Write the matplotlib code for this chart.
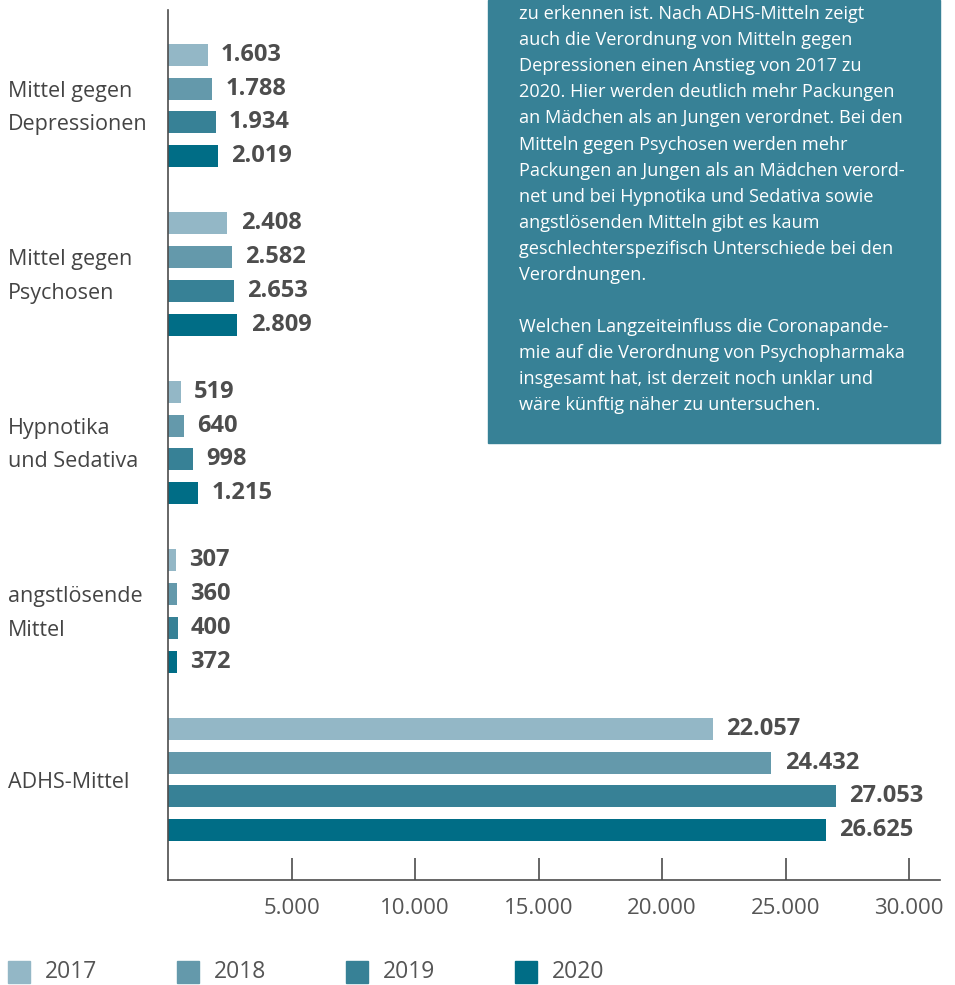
#!/usr/bin/env python3

import numpy as np
import matplotlib.pyplot as plt
from matplotlib.patches import Rectangle

plt.rcParams['font.family'] = ['Open Sans', 'DejaVu Sans']

# Data: prescribed packages per year.
categories = ['Mittel gegen\nDepressionen', 'Mittel gegen\nPsychosen',
              'Hypnotika\nund Sedativa', 'angstlösende\nMittel', 'ADHS-Mittel']
years = ['2017', '2018', '2019', '2020']
v2017 = [1603, 2408, 519, 307, 22057]
v2018 = [1788, 2582, 640, 360, 24432]
v2019 = [1934, 2653, 998, 400, 27053]
v2020 = [2019, 2809, 1215, 372, 26625]
colors = ['#93b7c6', '#6499ab', '#378196', '#006d86']
ticks = [5000, 10000, 15000, 20000, 25000, 30000]

text_lines = [
    'zu erkennen ist. Nach ADHS-Mitteln zeigt',
    'auch die Verordnung von Mitteln gegen',
    'Depressionen einen Anstieg von 2017 zu',
    '2020. Hier werden deutlich mehr Packungen',
    'an Mädchen als an Jungen verordnet. Bei den',
    'Mitteln gegen Psychosen werden mehr',
    'Packungen an Jungen als an Mädchen verord-',
    'net und bei Hypnotika und Sedativa sowie',
    'angstlösenden Mitteln gibt es kaum',
    'geschlechterspezifisch Unterschiede bei den',
    'Verordnungen.',
    '',
    'Welchen Langzeiteinfluss die Coronapande-',
    'mie auf die Verordnung von Psychopharmaka',
    'insgesamt hat, ist derzeit noch unklar und',
    'wäre künftig näher zu untersuchen.',
]

def thousands(v):
    return f'{v:,}'.replace(',', '.')

W, H = 955, 985
fig = plt.figure(figsize=(W / 100, H / 100), dpi=100)
# axes: x from px 168 to 940, y from px 10 to 880
ax = fig.add_axes([168 / W, 1 - 880 / H, (940 - 168) / W, (880 - 10) / H])
ax.set_xlim(0, (940 - 168) / 741 * 30000)
ax.set_ylim(880, 10)  # pixel-like units, inverted

group_step = 168.5
bar_step = 33.7
bar_h = 22
first = 55

series = [v2017, v2018, v2019, v2020]
grey = '#4d4d4d'
for g, cat in enumerate(categories):
    for k, vals in enumerate(series):
        y = first + g * group_step + k * bar_step
        ax.barh(y, vals[g], height=bar_h, color=colors[k], zorder=2)
        ax.annotate(thousands(vals[g]), (vals[g], y), xytext=(9.5, 0),
                    textcoords='offset points', va='center', ha='left',
                    fontsize=17, fontweight='bold', color=grey)
    yc = first + g * group_step + 1.5 * bar_step
    fig.text(8 / W, 1 - (yc + 2.5) / H, cat, ha='left', va='center',
             fontsize=15.5, color='#444444', linespacing=1.8)

ax.set_xticks(ticks)
ax.set_xticklabels([thousands(t) for t in ticks], fontsize=16, color='#555555')
ax.tick_params(axis='x', direction='in', length=16, width=1.2, color=grey, pad=13)
ax.set_yticks([])
for s in ['top', 'right']:
    ax.spines[s].set_visible(False)
for s in ['left', 'bottom']:
    ax.spines[s].set_color(grey)
    ax.spines[s].set_linewidth(1.2)

# text box
fig.patches.append(Rectangle((488 / W, 1 - 443 / H), (940 - 488) / W, 443 / H,
                             transform=fig.transFigure, color='#378196', zorder=5))
for i, line in enumerate(text_lines):
    fig.text(519 / W, 1 - (14 + i * 26.1) / H, line, ha='left', va='center',
             fontsize=13.1, color='white', zorder=6)

# legend
for k, yr in enumerate(years):
    x0 = 8 + k * 169
    fig.patches.append(Rectangle((x0 / W, 1 - 983 / H), 22 / W, 22 / H,
                                 transform=fig.transFigure, color=colors[k]))
    fig.text((x0 + 37) / W, 1 - 972 / H, yr, ha='left', va='center',
             fontsize=16.5, color='#555555')

fig.savefig('out.png', dpi=100)
